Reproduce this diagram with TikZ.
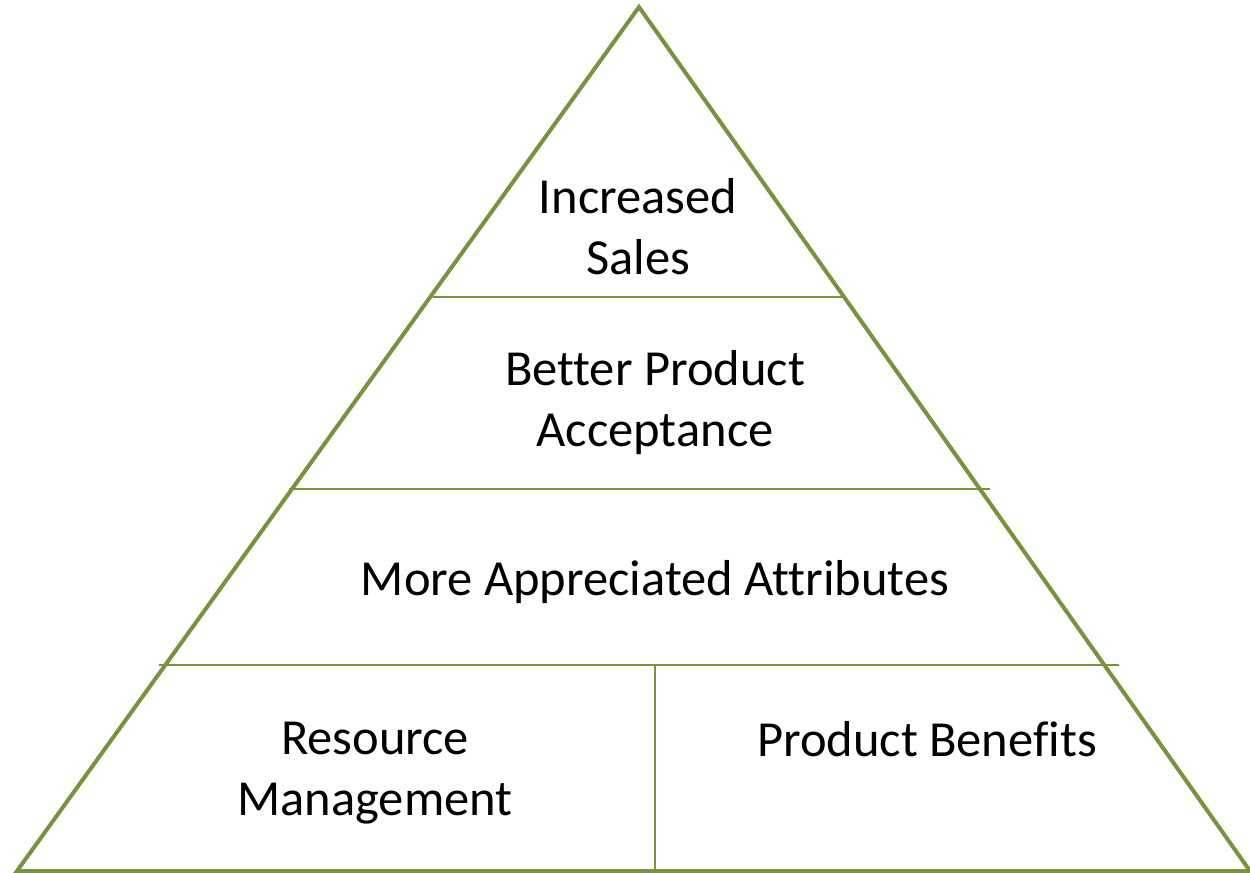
\documentclass[tikz,border=0pt]{standalone}
\usepackage{fontspec}
\setmainfont[RawFeature=-liga]{Carlito}
\definecolor{olive}{RGB}{119,147,60}
\begin{document}
\begin{tikzpicture}[x=0.5pt,y=-0.5pt,
  outer/.style={draw=olive,line width=2pt,line join=miter},
  inner/.style={draw=olive,line width=1pt},
  lbl/.style={align=center,inner sep=0pt,font=\fontsize{25.25pt}{30.5pt}\selectfont}]
\useasboundingbox (0,0) rectangle (1250,873);
\coordinate (apex) at (639,7);
\coordinate (bl) at (17,871);
\coordinate (br) at (1250,871);
\coordinate (l1a) at (433,297);
\coordinate (l1b) at (845,297);
\coordinate (l2a) at (289,489);
\coordinate (l2b) at (990,489);
\coordinate (l3a) at (159,664.5);
\coordinate (l3b) at (1119,664.5);
\coordinate (vt) at (655,664.5);
\coordinate (vb) at (655,871);
\draw[inner] (l1a) -- (l1b);
\draw[inner] (l2a) -- (l2b);
\draw[inner] (l3a) -- (l3b);
\draw[inner] (vt) -- (vb);
\draw[outer] (apex) -- (br) -- (bl) -- cycle;
\node[lbl] (sales) at (638,226.5) {Increased\\Sales};
\node[lbl] (accept) at (655,402.5) {Better Product\\Acceptance};
\node[lbl] (attr) at (655,582) {More Appreciated Attributes};
\node[lbl] (res) at (375,773) {Resource\\Management};
\node[lbl] (ben) at (927,739.5) {Product Benefits};
\end{tikzpicture}
\end{document}
